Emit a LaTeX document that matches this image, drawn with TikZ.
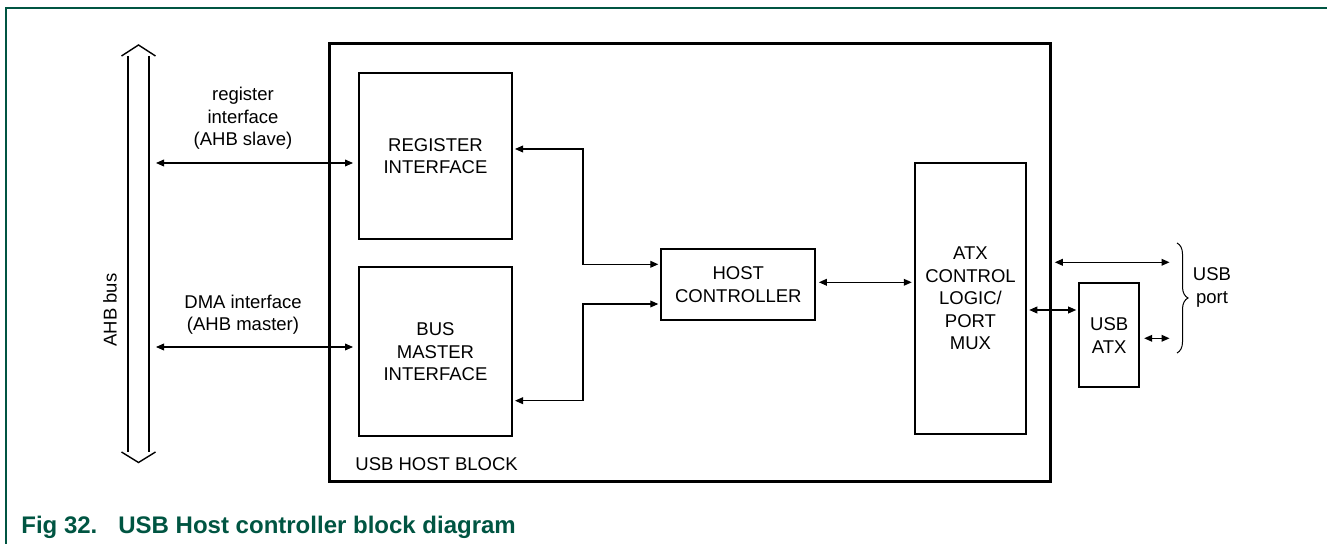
\documentclass[tikz,border=0pt]{standalone}
\usepackage{fontspec}
\setmainfont{Liberation Sans}
\usepackage{tikz}
\usetikzlibrary{arrows.meta,decorations.pathreplacing}
\definecolor{nxpgreen}{RGB}{0,85,66}
\tikzset{block/.style={draw, line width=1pt, align=center, inner sep=0pt},
         lbl/.style={align=center, inner sep=0pt},
         link/.style={{Triangle[length=4pt,width=3.4pt]}-{Triangle[length=4pt,width=3.4pt]},
                      line width=.55pt, shorten <=1pt, shorten >=1pt},
         busline/.style={line width=.7pt}}

\begin{document}
\begin{tikzpicture}[x=.5pt,y=-.5pt,font=\fontsize{9.25}{11.25}\selectfont]
      \useasboundingbox (0,0) rectangle (1327,544);
      \draw[nxpgreen, line width=1pt] (1327,8) -- (6,8) -- (6,544);
      \node[anchor=base west, inner sep=0pt, text=nxpgreen, font=\fontsize{12}{14}\selectfont\bfseries]
        (cap) at (21,533) {Fig 32.\hspace{10.5pt}USB Host controller block diagram};

      \node[block, line width=1.5pt, minimum width=360.5pt, minimum height=219pt] (blk) at (690.4,262.4) {};
      \node[anchor=base west, inner sep=0pt] (blklbl) at (355,471) {USB HOST BLOCK};
      \node[block, minimum width=76.5pt, minimum height=83pt] (reg) at (435.5,156.2) {REGISTER\\INTERFACE};
      \node[block, minimum width=76.5pt, minimum height=84.5pt] (bm) at (435.5,351.7) {BUS\\MASTER\\INTERFACE};
      \node[block, minimum width=77pt, minimum height=35.2pt] (hc) at (738.3,284.5) {HOST\\CONTROLLER};
      \node[block, minimum width=55.75pt, minimum height=135.4pt] (atx) at (970.5,298.4) {ATX\\CONTROL\\LOGIC/\\PORT\\MUX};
      \node[block, minimum width=30pt, minimum height=51.9pt] (uatx) at (1109.2,335.4) {USB\\ATX};

      \node[minimum width=10.5pt, minimum height=198pt, inner sep=0pt, outer sep=0pt] (bus) at (138.5,254) {};
      \draw[busline] (bus.north west) -- (bus.south west) (bus.north east) -- (bus.south east);
      \draw[busline] ([xshift=-3.25pt]bus.north west) -- ([yshift=5.5pt]bus.north) -- ([xshift=3.25pt]bus.north east);
      \draw[busline] ([xshift=-3.25pt]bus.south west) -- ([yshift=-5.25pt]bus.south) -- ([xshift=3.25pt]bus.south east);
      \node[rotate=90] (buslbl) at (110,310) {AHB bus};

      \coordinate (regin) at ([yshift=-3.4pt]reg.west);
      \coordinate (bmin) at ([yshift=2.35pt]bm.west);
      \draw[link, shorten <=3.5pt, shorten >=2.5pt] (bus.east |- regin) -- (regin);
      \draw[link, shorten <=3.5pt, shorten >=2.5pt] (bus.east |- bmin) -- (bmin);
      \node[lbl] (reglbl) at (243,118.5) {register\\interface\\(AHB slave)};
      \node[lbl] (dmalbl) at (243,314.5) {DMA interface\\(AHB master)};

      \draw[link] ([yshift=3.6pt]reg.east) -- ++(70,0) |- ([yshift=10.1pt]hc.west);
      \draw[link] ([yshift=-24.5pt]bm.east) -- ++(70,0) |- ([yshift=-9.75pt]hc.west);
      \coordinate (hcout) at ([yshift=1.1pt]hc.east);
      \draw[link, shorten <=1.3pt] (hcout) -- (hcout -| atx.west);

      \coordinate (porta) at (1169.5,262.3);
      \coordinate (portb) at (1169.5,338.3);
      \coordinate (uatxin) at ([yshift=12.7pt]uatx.west);
      \draw[link, shorten <=1.2pt, shorten >=0pt] (blk.east |- porta) -- (porta);
      \draw[link] (uatxin -| atx.east) -- (uatxin);
      \draw[link, shorten <=2pt, shorten >=0pt] (uatx.east |- portb) -- (portb);
      \draw[line width=.5pt, decorate, decoration={brace, amplitude=5.5pt}] (1177,243) -- (1177,353);
      \node[lbl] (portlbl) at (1212,287.5) {USB\\port};
\end{tikzpicture}
\end{document}
